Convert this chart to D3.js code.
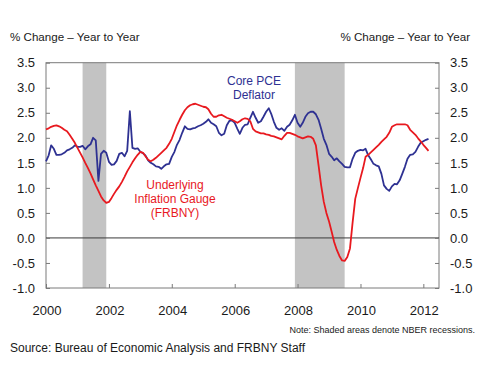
<!DOCTYPE html>
<html><head><meta charset="utf-8">
<script src="https://cdn.jsdelivr.net/npm/d3@7"></script>
<style>
html,body{margin:0;padding:0;background:#fff;}
svg{display:block;font-family:"Liberation Sans",Arial,sans-serif;}
</style></head>
<body>
<svg id="chart" width="480" height="371"></svg>
<script>
// Monthly data, Jan 2000 onwards
const startMonth = "2000-01-01";
const corePCE = [
1.53,1.65,1.85,1.78,1.66,1.66,1.67,1.70,1.75,1.77,1.80,1.85,
1.82,1.82,1.84,1.77,1.83,1.87,2.00,1.95,1.14,1.68,1.74,1.70,
1.52,1.46,1.47,1.54,1.68,1.70,1.63,1.74,2.53,1.80,1.78,1.79,
1.72,1.69,1.65,1.55,1.50,1.47,1.43,1.42,1.38,1.43,1.47,1.48,
1.62,1.72,1.86,1.96,2.10,2.23,2.18,2.17,2.19,2.20,2.23,2.25,
2.28,2.32,2.37,2.30,2.27,2.23,2.10,2.05,2.08,2.25,2.34,2.35,
2.30,2.18,2.08,2.20,2.26,2.27,2.40,2.52,2.40,2.30,2.33,2.42,
2.52,2.59,2.48,2.32,2.20,2.16,2.19,2.14,2.22,2.26,2.35,2.46,
2.30,2.22,2.30,2.42,2.49,2.52,2.52,2.47,2.36,2.18,1.98,1.86,
1.68,1.62,1.55,1.59,1.53,1.48,1.42,1.41,1.41,1.58,1.70,1.74,
1.76,1.75,1.78,1.65,1.57,1.48,1.45,1.43,1.28,1.05,0.98,0.94,
1.03,1.08,1.07,1.15,1.28,1.42,1.58,1.66,1.67,1.72,1.82,1.90,
1.93,1.96,1.98];
const uig = [
2.17,2.19,2.22,2.24,2.25,2.23,2.20,2.16,2.13,2.06,1.98,1.90,
1.80,1.70,1.61,1.50,1.40,1.29,1.17,1.05,0.94,0.83,0.75,0.70,
0.72,0.80,0.88,0.96,1.03,1.12,1.22,1.33,1.42,1.51,1.59,1.66,
1.72,1.70,1.63,1.56,1.53,1.56,1.60,1.65,1.70,1.75,1.80,1.88,
1.98,2.12,2.25,2.36,2.46,2.55,2.61,2.65,2.67,2.68,2.66,2.64,
2.62,2.61,2.57,2.48,2.42,2.42,2.45,2.46,2.43,2.40,2.38,2.36,
2.33,2.30,2.33,2.37,2.39,2.38,2.33,2.18,2.13,2.11,2.09,2.09,
2.07,2.06,2.04,2.03,2.01,1.99,1.97,2.04,2.10,2.10,2.08,2.06,
2.03,2.01,1.99,2.01,2.03,2.02,1.98,1.85,1.45,1.05,0.72,0.50,
0.33,0.12,-0.08,-0.24,-0.36,-0.45,-0.46,-0.38,-0.21,0.30,0.78,0.99,
1.20,1.40,1.62,1.66,1.71,1.76,1.81,1.86,1.92,1.97,2.02,2.10,
2.22,2.25,2.27,2.27,2.27,2.27,2.25,2.16,2.11,2.06,1.99,1.93,
1.86,1.80,1.74];
const recessions = [["2001-03-01","2001-12-01"],["2007-12-01","2009-07-01"]];
const yTicks = [3.5,3.0,2.5,2.0,1.5,1.0,0.5,0.0,-0.5,-1.0];
const xTickYears = [2000,2002,2004,2006,2008,2010,2012];

const svg = d3.select("#chart");
const L = 46, R = 439, T = 62.7, B = 288;
const parse = d3.utcParse("%Y-%m-%d");
const x = d3.scaleUtc().domain([parse("2000-01-01"), parse("2012-07-01")]).range([L, R]);
const y = d3.scaleLinear().domain([-1, 3.5]).range([B, T]);
const dates = corePCE.map((_, i) => d3.utcMonth.offset(parse(startMonth), i));
const fmt = v => d3.format(".1f")(v).replace("−", "-");

// recessions
svg.selectAll("rect.rec").data(recessions).join("rect")
  .attr("x", d => x(parse(d[0]))).attr("y", T)
  .attr("width", d => x(parse(d[1])) - x(parse(d[0]))).attr("height", B - T)
  .attr("fill", "#c3c3c3");

// frame
svg.append("rect").attr("x", L).attr("y", T).attr("width", R - L).attr("height", B - T)
  .attr("fill", "none").attr("stroke", "#7a7a7a").attr("stroke-width", 1);

// zero line
svg.append("line").attr("x1", L).attr("x2", R).attr("y1", y(0)).attr("y2", y(0))
  .attr("stroke", "#3a3a3a").attr("stroke-width", 1);

// axes
const leftAxis = d3.axisRight(y).tickValues(yTicks).tickSize(4).tickFormat("");
const gl = svg.append("g").attr("transform", `translate(${L},0)`).call(leftAxis);
const rightAxis = d3.axisLeft(y).tickValues(yTicks).tickSize(4).tickFormat("");
const gr = svg.append("g").attr("transform", `translate(${R},0)`).call(rightAxis);
const bottomAxis = d3.axisTop(x).tickValues(xTickYears.map(yr => new Date(Date.UTC(yr,0,1)))).tickSize(4).tickFormat("");
const gb = svg.append("g").attr("transform", `translate(0,${B})`).call(bottomAxis);
[gl, gr, gb].forEach(g => { g.select(".domain").remove(); g.selectAll(".tick line").attr("stroke", "#7a7a7a"); });

// tick labels
svg.selectAll("text.yl").data(yTicks).join("text").attr("class","yl")
  .attr("x", 35).attr("y", d => y(d)).attr("dy", "0.36em").attr("text-anchor", "end")
  .attr("font-size", 13).attr("fill", "#1a1a1a").text(fmt);
svg.selectAll("text.yr").data(yTicks).join("text").attr("class","yr")
  .attr("x", 450).attr("y", d => y(d)).attr("dy", "0.36em").attr("text-anchor", "start")
  .attr("font-size", 13).attr("fill", "#1a1a1a").text(fmt);
svg.selectAll("text.xl").data(xTickYears).join("text").attr("class","xl")
  .attr("x", d => x(new Date(Date.UTC(d,0,1))) + 1).attr("y", 314.5).attr("text-anchor", "middle")
  .attr("font-size", 13).attr("fill", "#1a1a1a").text(d => d);

// lines
const line = d3.line().x((d, i) => x(dates[i])).y(d => y(d));
svg.append("path").datum(corePCE).attr("d", line).attr("fill", "none")
  .attr("stroke", "#2e3192").attr("stroke-width", 1.8).attr("stroke-linejoin", "round");
svg.append("path").datum(uig).attr("d", line).attr("fill", "none")
  .attr("stroke", "#e8191f").attr("stroke-width", 1.8).attr("stroke-linejoin", "round");

// titles
svg.append("text").attr("x", 10).attr("y", 40.5).attr("font-size", 11.6).attr("fill", "#1a1a1a")
  .text("% Change \u2013 Year to Year");
svg.append("text").attr("x", 470).attr("y", 40.5).attr("font-size", 11.6).attr("fill", "#1a1a1a")
  .attr("text-anchor", "end").text("% Change \u2013 Year to Year");

// series labels
const blueLbl = svg.append("text").attr("font-size", 12).attr("fill", "#2e3192").attr("text-anchor", "middle");
blueLbl.append("tspan").attr("x", 254).attr("y", 85).text("Core PCE");
blueLbl.append("tspan").attr("x", 254).attr("y", 99.3).text("Deflator");
const redLbl = svg.append("text").attr("font-size", 12).attr("fill", "#e8191f").attr("text-anchor", "middle");
redLbl.append("tspan").attr("x", 175).attr("y", 188.5).text("Underlying");
redLbl.append("tspan").attr("x", 175).attr("y", 202.5).text("Inflation Gauge");
redLbl.append("tspan").attr("x", 175).attr("y", 216.5).text("(FRBNY)");

// notes
svg.append("text").attr("x", 475).attr("y", 333).attr("font-size", 9).attr("fill", "#1a1a1a")
  .attr("text-anchor", "end").text("Note: Shaded areas denote NBER recessions.");
svg.append("text").attr("x", 10).attr("y", 351.5).attr("font-size", 12).attr("fill", "#1a1a1a")
  .text("Source: Bureau of Economic Analysis and FRBNY Staff");
</script>
</body></html>
